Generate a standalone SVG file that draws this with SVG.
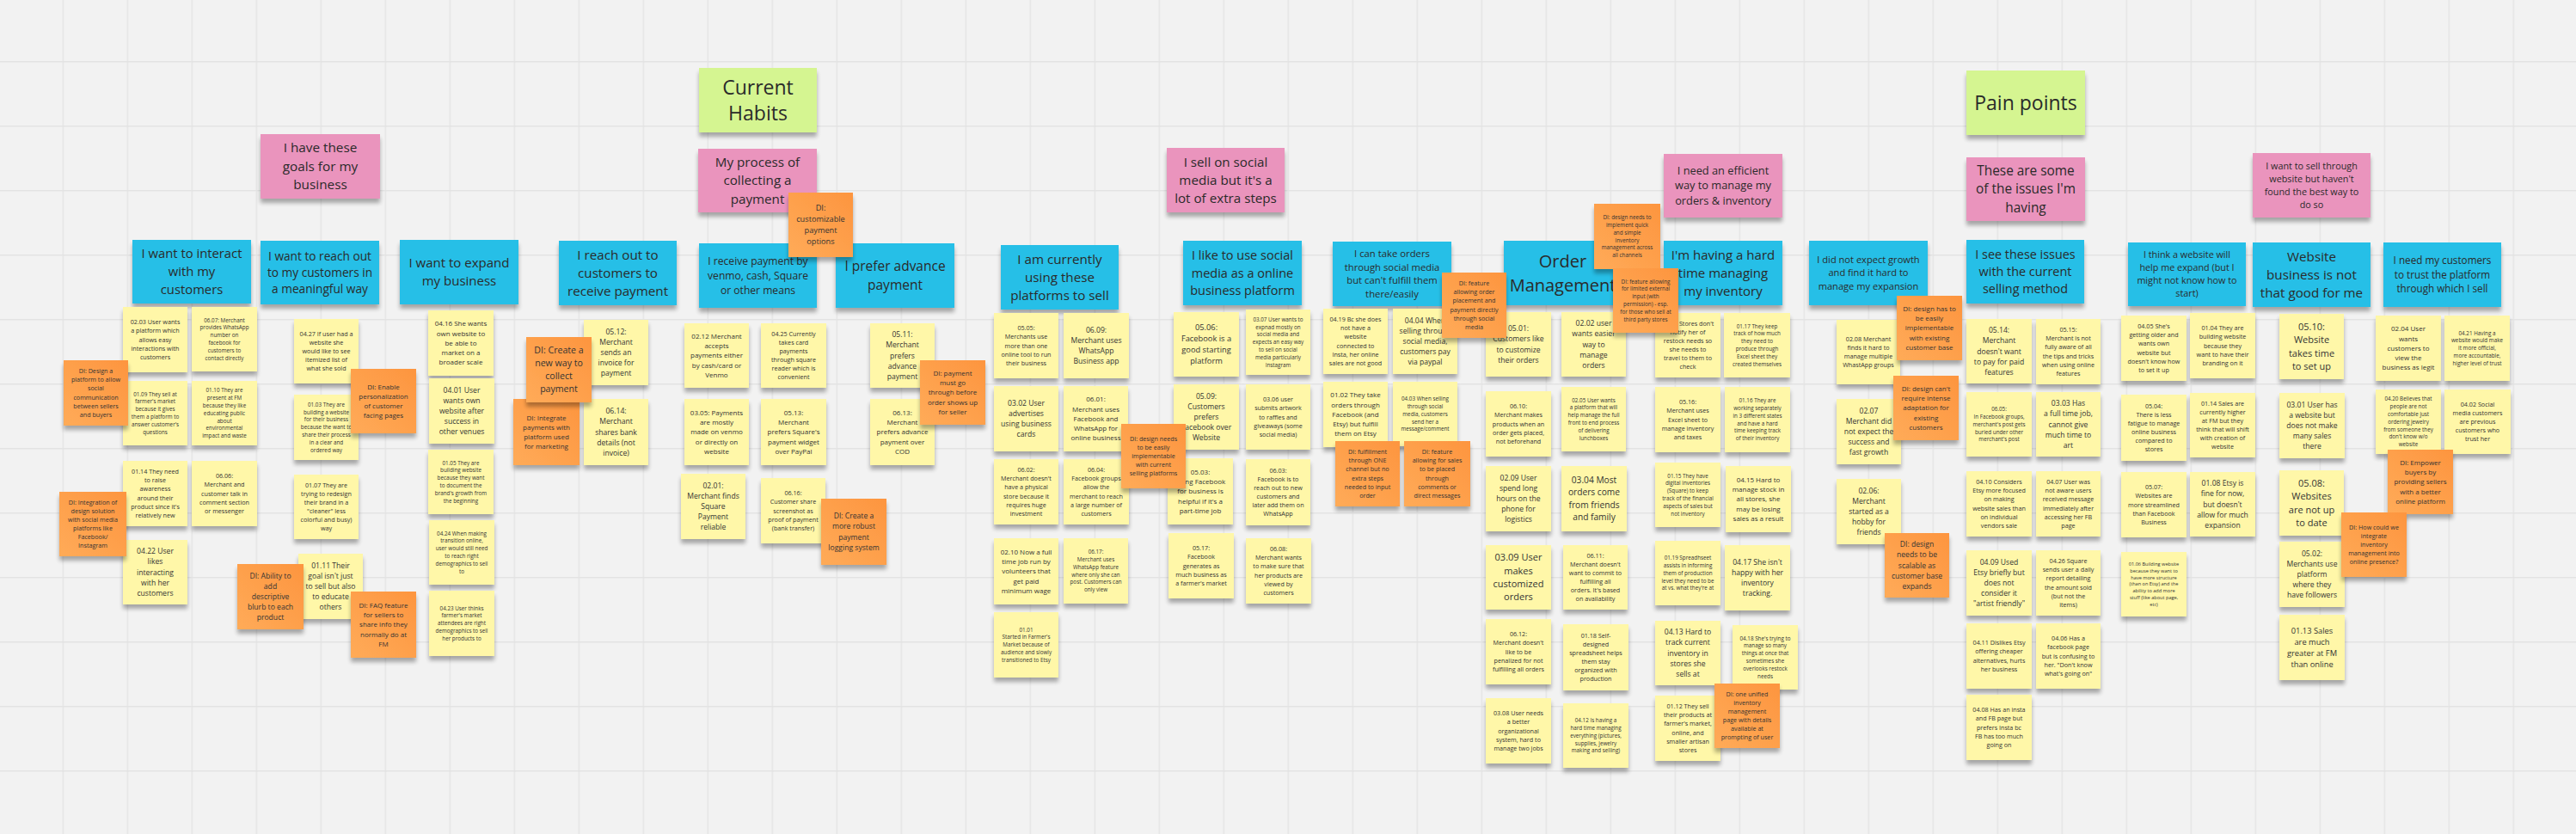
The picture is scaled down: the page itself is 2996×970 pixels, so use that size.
<svg xmlns="http://www.w3.org/2000/svg" width="2996" height="970" viewBox="0 0 2996 970">
<defs>
<pattern id="grid" width="75" height="75" patternUnits="userSpaceOnUse" x="72.6" y="71">
<path d="M0 0.7H75M0.7 0V75" stroke="#e3e3e3" stroke-width="1.4" fill="none"/>
</pattern>
<filter id="sh" x="-10%" y="-10%" width="120%" height="135%">
<feGaussianBlur in="SourceAlpha" stdDeviation="2.5"/>
<feOffset dy="5"/>
<feComponentTransfer><feFuncA type="linear" slope="0.32"/></feComponentTransfer>
<feMerge><feMergeNode/><feMergeNode in="SourceGraphic"/></feMerge>
</filter>
<linearGradient id="og" x1="0" y1="1" x2="1" y2="0">
<stop offset="0" stop-color="#ffab58"/>
<stop offset="1" stop-color="#fd953f"/>
</linearGradient>
</defs>
<style>
.y{fill:#fff7a8;filter:url(#sh)}
.o{fill:url(#og);filter:url(#sh)}
.b{fill:#27bfe7;filter:url(#sh)}
.p{fill:#ea94bd;filter:url(#sh)}
.g{fill:#d5f591;filter:url(#sh)}
text{font-family:"Open Sans","Noto Sans","Liberation Sans",sans-serif;fill:#333;text-anchor:middle}
.h{fill:#2a2a2a}
.t5{font-size:5.6px}
.t6{font-size:6.3px}
.t7{font-size:7.2px}
.t8{font-size:8px}
.t85{font-size:8.6px}
.t9{font-size:9.3px}
.t10{font-size:10.2px}
.t11{font-size:11px}
</style>
<rect width="2996" height="970" fill="#f2f2f2"/>
<rect width="2996" height="970" fill="url(#grid)"/>

<g id="headers">
<g id="h-goals"><rect class="p" x="303" y="156" width="139" height="75"/><text class="h" style="font-size:15.3px" x="372.5" y="193.5"><tspan x="372.5" dy="-1.05em">I have these</tspan><tspan x="372.5" dy="1.4em">goals for my</tspan><tspan x="372.5" dy="1.4em">business</tspan></text></g>
<g id="h-interact"><rect class="b" x="154" y="279" width="138" height="74"/><text class="h" style="font-size:14.8px" x="223" y="316"><tspan x="223" dy="-1.05em">I want to interact</tspan><tspan x="223" dy="1.4em">with my</tspan><tspan x="223" dy="1.4em">customers</tspan></text></g>
<g id="h-reach"><rect class="b" x="303" y="280" width="138" height="74"/><text class="h" style="font-size:13.7px" x="372" y="317"><tspan x="372" dy="-1.05em">I want to reach out</tspan><tspan x="372" dy="1.4em">to my customers in</tspan><tspan x="372" dy="1.4em">a meaningful way</tspan></text></g>
<g id="h-expand"><rect class="b" x="465" y="279" width="138" height="75"/><text class="h" style="font-size:15px" x="534" y="316.5"><tspan x="534" dy="-0.35em">I want to expand</tspan><tspan x="534" dy="1.4em">my business</tspan></text></g>
<g id="h-current"><rect class="g" x="813" y="79" width="137" height="75"/><text class="h" style="font-size:23px" x="881.5" y="116.5"><tspan x="881.5" dy="-0.3em">Current</tspan><tspan x="881.5" dy="1.3em">Habits</tspan></text></g>
<g id="h-process"><rect class="p" x="812" y="173" width="138" height="74"/><text class="h" style="font-size:15.2px" x="881" y="210"><tspan x="881" dy="-1.05em">My process of</tspan><tspan x="881" dy="1.4em">collecting a</tspan><tspan x="881" dy="1.4em">payment</tspan></text></g>
<g id="h-reachpay"><rect class="b" x="650" y="280" width="137" height="75"/><text class="h" style="font-size:15.2px" x="718.5" y="317.5"><tspan x="718.5" dy="-1.05em">I reach out to</tspan><tspan x="718.5" dy="1.4em">customers to</tspan><tspan x="718.5" dy="1.4em">receive payment</tspan></text></g>
<g id="h-receive"><rect class="b" x="813" y="283" width="137" height="75"/><text class="h" style="font-size:12.1px" x="881.5" y="320.5"><tspan x="881.5" dy="-1.05em">I receive payment by</tspan><tspan x="881.5" dy="1.4em">venmo, cash, Square</tspan><tspan x="881.5" dy="1.4em">or other means</tspan></text></g>
<g id="h-prefer"><rect class="b" x="972" y="283" width="138" height="75"/><text class="h" style="font-size:15.5px" x="1041" y="320.5"><tspan x="1041" dy="-0.35em">I prefer advance</tspan><tspan x="1041" dy="1.4em">payment</tspan></text></g>
<g id="h-sell"><rect class="p" x="1357" y="172" width="137" height="75"/><text class="h" style="font-size:15.2px" x="1425.5" y="209.5"><tspan x="1425.5" dy="-1.05em">I sell on social</tspan><tspan x="1425.5" dy="1.4em">media but it's a</tspan><tspan x="1425.5" dy="1.4em">lot of extra steps</tspan></text></g>
<g id="h-currently"><rect class="b" x="1164" y="285" width="137" height="75"/><text class="h" style="font-size:15.2px" x="1232.5" y="322.5"><tspan x="1232.5" dy="-1.05em">I am currently</tspan><tspan x="1232.5" dy="1.4em">using these</tspan><tspan x="1232.5" dy="1.4em">platforms to sell</tspan></text></g>
<g id="h-like"><rect class="b" x="1376" y="280" width="138" height="75"/><text class="h" style="font-size:14.5px" x="1445" y="317.5"><tspan x="1445" dy="-1.05em">I like to use social</tspan><tspan x="1445" dy="1.4em">media as a online</tspan><tspan x="1445" dy="1.4em">business platform</tspan></text></g>
<g id="h-cantake"><rect class="b" x="1550" y="281" width="138" height="75"/><text class="h" style="font-size:11.3px" x="1619" y="318.5"><tspan x="1619" dy="-1.75em">I can take orders</tspan><tspan x="1619" dy="1.4em">through social media</tspan><tspan x="1619" dy="1.4em">but can't fulfill them</tspan><tspan x="1619" dy="1.4em">there/easily</tspan></text></g>
<g id="h-order"><rect class="b" x="1749" y="280" width="137" height="75"/><text class="h" style="font-size:20px" x="1817.5" y="317.5"><tspan x="1817.5" dy="-0.35em">Order</tspan><tspan x="1817.5" dy="1.4em">Management</tspan></text></g>
<g id="h-efficient"><rect class="p" x="1935" y="179" width="138" height="74"/><text class="h" style="font-size:12.8px" x="2004" y="216"><tspan x="2004" dy="-1.05em">I need an efficient</tspan><tspan x="2004" dy="1.4em">way to manage my</tspan><tspan x="2004" dy="1.4em">orders &amp; inventory</tspan></text></g>
<g id="h-hardtime"><rect class="b" x="1935" y="280" width="138" height="75"/><text class="h" style="font-size:15px" x="2004" y="317.5"><tspan x="2004" dy="-1.05em">I'm having a hard</tspan><tspan x="2004" dy="1.4em">time managing</tspan><tspan x="2004" dy="1.4em">my inventory</tspan></text></g>
<g id="h-pain"><rect class="g" x="2287" y="82" width="138" height="75"/><text class="h" style="font-size:23px" x="2356" y="119.5"><tspan x="2356" dy="0.35em">Pain points</tspan></text></g>
<g id="h-issues"><rect class="p" x="2287" y="183" width="138" height="74"/><text class="h" style="font-size:15.4px" x="2356" y="220"><tspan x="2356" dy="-1.05em">These are some</tspan><tspan x="2356" dy="1.4em">of the issues I'm</tspan><tspan x="2356" dy="1.4em">having</tspan></text></g>
<g id="h-growth"><rect class="b" x="2104" y="280" width="138" height="75"/><text class="h" style="font-size:11.1px" x="2173" y="317.5"><tspan x="2173" dy="-1.05em">I did not expect growth</tspan><tspan x="2173" dy="1.4em">and find it hard to</tspan><tspan x="2173" dy="1.4em">manage my expansion</tspan></text></g>
<g id="h-seeissues"><rect class="b" x="2287" y="279" width="137" height="74"/><text class="h" style="font-size:14.4px" x="2355.5" y="316"><tspan x="2355.5" dy="-1.05em">I see these issues</tspan><tspan x="2355.5" dy="1.4em">with the current</tspan><tspan x="2355.5" dy="1.4em">selling method</tspan></text></g>
<g id="h-think"><rect class="b" x="2475" y="282" width="137" height="74"/><text class="h" style="font-size:10.8px" x="2543.5" y="319"><tspan x="2543.5" dy="-1.75em">I think a website will</tspan><tspan x="2543.5" dy="1.4em">help me expand (but I</tspan><tspan x="2543.5" dy="1.4em">might not know how to</tspan><tspan x="2543.5" dy="1.4em">start)</tspan></text></g>
<g id="h-website"><rect class="p" x="2620" y="178" width="137" height="75"/><text class="h" style="font-size:10.8px" x="2688.5" y="215.5"><tspan x="2688.5" dy="-1.75em">I want to sell through</tspan><tspan x="2688.5" dy="1.4em">website but haven't</tspan><tspan x="2688.5" dy="1.4em">found the best way to</tspan><tspan x="2688.5" dy="1.4em">do so</tspan></text></g>
<g id="h-notgood"><rect class="b" x="2620" y="282" width="137" height="75"/><text class="h" style="font-size:15.2px" x="2688.5" y="319.5"><tspan x="2688.5" dy="-1.05em">Website</tspan><tspan x="2688.5" dy="1.4em">business is not</tspan><tspan x="2688.5" dy="1.4em">that good for me</tspan></text></g>
<g id="h-trust"><rect class="b" x="2772" y="282" width="137" height="75"/><text class="h" style="font-size:11.7px" x="2840.5" y="319.5"><tspan x="2840.5" dy="-1.05em">I need my customers</tspan><tspan x="2840.5" dy="1.4em">to trust the platform</tspan><tspan x="2840.5" dy="1.4em">through which I sell</tspan></text></g>
</g>

<g id="notes">
<g id="n0203"><rect class="y" x="143" y="357" width="75" height="76"/><text class="t7" x="180.5" y="395"><tspan x="180.5" dy="-2.45em">02.03 User wants</tspan><tspan x="180.5" dy="1.4em">a platform which</tspan><tspan x="180.5" dy="1.4em">allows easy</tspan><tspan x="180.5" dy="1.4em">interactions with</tspan><tspan x="180.5" dy="1.4em">customers</tspan></text></g>
<g id="n0607"><rect class="y" x="223" y="357" width="76" height="75"/><text class="t6" x="261" y="394.5"><tspan x="261" dy="-3.15em">06.07: Merchant</tspan><tspan x="261" dy="1.4em">provides WhatsApp</tspan><tspan x="261" dy="1.4em">number on</tspan><tspan x="261" dy="1.4em">facebook for</tspan><tspan x="261" dy="1.4em">customers to</tspan><tspan x="261" dy="1.4em">contact directly</tspan></text></g>
<g id="n0427"><rect class="y" x="342" y="371" width="75" height="75"/><text class="t7" x="379.5" y="408.5"><tspan x="379.5" dy="-2.45em">04.27 If user had a</tspan><tspan x="379.5" dy="1.4em">website  she</tspan><tspan x="379.5" dy="1.4em">would like to see</tspan><tspan x="379.5" dy="1.4em">itemized list of</tspan><tspan x="379.5" dy="1.4em">what she sold</tspan></text></g>
<g id="n0109"><rect class="y" x="143" y="443" width="75" height="75"/><text class="t6" x="180.5" y="480.5"><tspan x="180.5" dy="-3.15em">01.09 They sell at</tspan><tspan x="180.5" dy="1.4em">farmer's market</tspan><tspan x="180.5" dy="1.4em">because it gives</tspan><tspan x="180.5" dy="1.4em">them a platform to</tspan><tspan x="180.5" dy="1.4em">answer customer's</tspan><tspan x="180.5" dy="1.4em">questions</tspan></text></g>
<g id="n0110"><rect class="y" x="223" y="443" width="76" height="75"/><text class="t6" x="261" y="480.5"><tspan x="261" dy="-3.85em">01.10 They are</tspan><tspan x="261" dy="1.4em">present at FM</tspan><tspan x="261" dy="1.4em">because they like</tspan><tspan x="261" dy="1.4em">educating public</tspan><tspan x="261" dy="1.4em">about</tspan><tspan x="261" dy="1.4em">environmental</tspan><tspan x="261" dy="1.4em">impact and waste</tspan></text></g>
<g id="n0103"><rect class="y" x="342" y="459" width="75" height="76"/><text class="t6" x="379.5" y="497"><tspan x="379.5" dy="-3.85em">01.03 They are</tspan><tspan x="379.5" dy="1.4em">building a website</tspan><tspan x="379.5" dy="1.4em">for their business</tspan><tspan x="379.5" dy="1.4em">because the want to</tspan><tspan x="379.5" dy="1.4em">share their process</tspan><tspan x="379.5" dy="1.4em">in a clear and</tspan><tspan x="379.5" dy="1.4em">ordered way</tspan></text></g>
<g id="n0114a"><rect class="y" x="143" y="536" width="75" height="76"/><text class="t7" x="180.5" y="574"><tspan x="180.5" dy="-3.15em">01.14 They need</tspan><tspan x="180.5" dy="1.4em">to raise</tspan><tspan x="180.5" dy="1.4em">awareness</tspan><tspan x="180.5" dy="1.4em">around their</tspan><tspan x="180.5" dy="1.4em">product since it's</tspan><tspan x="180.5" dy="1.4em">relatively new</tspan></text></g>
<g id="n0606"><rect class="y" x="223" y="536" width="76" height="76"/><text class="t7" x="261" y="574"><tspan x="261" dy="-2.45em">06.06:</tspan><tspan x="261" dy="1.4em">Merchant and</tspan><tspan x="261" dy="1.4em">customer talk in</tspan><tspan x="261" dy="1.4em">comment section</tspan><tspan x="261" dy="1.4em">or messenger</tspan></text></g>
<g id="n0107"><rect class="y" x="342" y="552" width="75" height="75"/><text class="t7" x="379.5" y="589.5"><tspan x="379.5" dy="-3.15em">01.07 They are</tspan><tspan x="379.5" dy="1.4em">trying to redesign</tspan><tspan x="379.5" dy="1.4em">their brand in a</tspan><tspan x="379.5" dy="1.4em">"cleaner" less</tspan><tspan x="379.5" dy="1.4em">colorful and busy)</tspan><tspan x="379.5" dy="1.4em">way</tspan></text></g>
<g id="n0422"><rect class="y" x="143" y="628" width="75" height="75"/><text class="t85" x="180.5" y="665.5"><tspan x="180.5" dy="-2.45em">04.22 User</tspan><tspan x="180.5" dy="1.4em">likes</tspan><tspan x="180.5" dy="1.4em">interacting</tspan><tspan x="180.5" dy="1.4em">with her</tspan><tspan x="180.5" dy="1.4em">customers</tspan></text></g>
<g id="n0111"><rect class="y" x="347" y="644" width="75" height="76"/><text class="t85" x="384.5" y="682"><tspan x="384.5" dy="-2.45em">01.11 Their</tspan><tspan x="384.5" dy="1.4em">goal isn't just</tspan><tspan x="384.5" dy="1.4em">to sell but also</tspan><tspan x="384.5" dy="1.4em">to educate</tspan><tspan x="384.5" dy="1.4em">others</tspan></text></g>
<g id="n0416"><rect class="y" x="498" y="361" width="76" height="76"/><text class="t8" x="536" y="399"><tspan x="536" dy="-2.45em">04.16 She wants</tspan><tspan x="536" dy="1.4em">own website to</tspan><tspan x="536" dy="1.4em">be able to</tspan><tspan x="536" dy="1.4em">market on a</tspan><tspan x="536" dy="1.4em">broader scale</tspan></text></g>
<g id="n0401"><rect class="y" x="499" y="440" width="76" height="76"/><text class="t85" x="537" y="478"><tspan x="537" dy="-2.45em">04.01 User</tspan><tspan x="537" dy="1.4em">wants own</tspan><tspan x="537" dy="1.4em">website after</tspan><tspan x="537" dy="1.4em">success in</tspan><tspan x="537" dy="1.4em">other venues</tspan></text></g>
<g id="n0105"><rect class="y" x="498" y="523" width="76" height="75"/><text class="t6" x="536" y="560.5"><tspan x="536" dy="-3.15em">01.05 They are</tspan><tspan x="536" dy="1.4em">building website</tspan><tspan x="536" dy="1.4em">because they want</tspan><tspan x="536" dy="1.4em">to document the</tspan><tspan x="536" dy="1.4em">brand's growth from</tspan><tspan x="536" dy="1.4em">the beginning</tspan></text></g>
<g id="n0424"><rect class="y" x="499" y="605" width="76" height="75"/><text class="t6" x="537" y="642.5"><tspan x="537" dy="-3.15em">04.24 When making</tspan><tspan x="537" dy="1.4em">transition online,</tspan><tspan x="537" dy="1.4em">user would still need</tspan><tspan x="537" dy="1.4em">to reach right</tspan><tspan x="537" dy="1.4em">demographics to sell</tspan><tspan x="537" dy="1.4em">to</tspan></text></g>
<g id="n0423"><rect class="y" x="499" y="687" width="76" height="76"/><text class="t6" x="537" y="725"><tspan x="537" dy="-2.45em">04.23 User thinks</tspan><tspan x="537" dy="1.4em">farmer's market</tspan><tspan x="537" dy="1.4em">attendees are right</tspan><tspan x="537" dy="1.4em">demographics to sell</tspan><tspan x="537" dy="1.4em">her products to</tspan></text></g>

<g id="n0512"><rect class="y" x="679" y="372" width="75" height="76"/><text class="t85" x="716.5" y="410"><tspan x="716.5" dy="-2.45em">05.12:</tspan><tspan x="716.5" dy="1.4em">Merchant</tspan><tspan x="716.5" dy="1.4em">sends an</tspan><tspan x="716.5" dy="1.4em">invoice for</tspan><tspan x="716.5" dy="1.4em">payment</tspan></text></g>
<g id="n0212"><rect class="y" x="796" y="376" width="75" height="75"/><text class="t8" x="833.5" y="413.5"><tspan x="833.5" dy="-2.45em">02.12 Merchant</tspan><tspan x="833.5" dy="1.4em">accepts</tspan><tspan x="833.5" dy="1.4em">payments either</tspan><tspan x="833.5" dy="1.4em">by cash/card or</tspan><tspan x="833.5" dy="1.4em">Venmo</tspan></text></g>
<g id="n0425"><rect class="y" x="885" y="376" width="76" height="75"/><text class="t7" x="923" y="413.5"><tspan x="923" dy="-3.15em">04.25 Currently</tspan><tspan x="923" dy="1.4em">takes card</tspan><tspan x="923" dy="1.4em">payments</tspan><tspan x="923" dy="1.4em">through square</tspan><tspan x="923" dy="1.4em">reader which is</tspan><tspan x="923" dy="1.4em">convenient</tspan></text></g>
<g id="n0511"><rect class="y" x="1012" y="376" width="75" height="75"/><text class="t85" x="1049.5" y="413.5"><tspan x="1049.5" dy="-2.45em">05.11:</tspan><tspan x="1049.5" dy="1.4em">Merchant</tspan><tspan x="1049.5" dy="1.4em">prefers</tspan><tspan x="1049.5" dy="1.4em">advance</tspan><tspan x="1049.5" dy="1.4em">payment</tspan></text></g>
<g id="n0614"><rect class="y" x="679" y="464" width="75" height="77"/><text class="t85" x="716.5" y="502.5"><tspan x="716.5" dy="-2.45em">06.14:</tspan><tspan x="716.5" dy="1.4em">Merchant</tspan><tspan x="716.5" dy="1.4em">shares bank</tspan><tspan x="716.5" dy="1.4em">details (not</tspan><tspan x="716.5" dy="1.4em">invoice)</tspan></text></g>
<g id="n0305"><rect class="y" x="796" y="464" width="75" height="77"/><text class="t8" x="833.5" y="502.5"><tspan x="833.5" dy="-2.45em">03.05: Payments</tspan><tspan x="833.5" dy="1.4em">are mostly</tspan><tspan x="833.5" dy="1.4em">made on venmo</tspan><tspan x="833.5" dy="1.4em">or directly on</tspan><tspan x="833.5" dy="1.4em">website</tspan></text></g>
<g id="n0513"><rect class="y" x="885" y="464" width="76" height="77"/><text class="t8" x="923" y="502.5"><tspan x="923" dy="-2.45em">05.13:</tspan><tspan x="923" dy="1.4em">Merchant</tspan><tspan x="923" dy="1.4em">prefers Square's</tspan><tspan x="923" dy="1.4em">payment widget</tspan><tspan x="923" dy="1.4em">over PayPal</tspan></text></g>
<g id="n0613"><rect class="y" x="1012" y="464" width="75" height="77"/><text class="t8" x="1049.5" y="502.5"><tspan x="1049.5" dy="-2.45em">06.13:</tspan><tspan x="1049.5" dy="1.4em">Merchant</tspan><tspan x="1049.5" dy="1.4em">prefers advance</tspan><tspan x="1049.5" dy="1.4em">payment over</tspan><tspan x="1049.5" dy="1.4em">COD</tspan></text></g>
<g id="n0201"><rect class="y" x="792" y="551" width="75" height="76"/><text class="t85" x="829.5" y="589"><tspan x="829.5" dy="-2.45em">02.01:</tspan><tspan x="829.5" dy="1.4em">Merchant finds</tspan><tspan x="829.5" dy="1.4em">Square</tspan><tspan x="829.5" dy="1.4em">Payment</tspan><tspan x="829.5" dy="1.4em">reliable</tspan></text></g>
<g id="n0616"><rect class="y" x="885" y="556" width="75" height="76"/><text class="t7" x="922.5" y="594"><tspan x="922.5" dy="-2.45em">06.16:</tspan><tspan x="922.5" dy="1.4em">Customer share</tspan><tspan x="922.5" dy="1.4em">screenshot as</tspan><tspan x="922.5" dy="1.4em">proof of payment</tspan><tspan x="922.5" dy="1.4em">(bank transfer)</tspan></text></g>

<g id="n0505"><rect class="y" x="1156" y="364" width="75" height="76"/><text class="t7" x="1193.5" y="402"><tspan x="1193.5" dy="-2.45em">05.05:</tspan><tspan x="1193.5" dy="1.4em">Merchants use</tspan><tspan x="1193.5" dy="1.4em">more than one</tspan><tspan x="1193.5" dy="1.4em">online tool to run</tspan><tspan x="1193.5" dy="1.4em">their business</tspan></text></g>
<g id="n0609"><rect class="y" x="1237" y="364" width="76" height="76"/><text class="t85" x="1275" y="402"><tspan x="1275" dy="-1.75em">06.09:</tspan><tspan x="1275" dy="1.4em">Merchant uses</tspan><tspan x="1275" dy="1.4em">WhatsApp</tspan><tspan x="1275" dy="1.4em">Business app</tspan></text></g>
<g id="n0302"><rect class="y" x="1156" y="449" width="75" height="76"/><text class="t85" x="1193.5" y="487"><tspan x="1193.5" dy="-1.75em">03.02 User</tspan><tspan x="1193.5" dy="1.4em">advertises</tspan><tspan x="1193.5" dy="1.4em">using business</tspan><tspan x="1193.5" dy="1.4em">cards</tspan></text></g>
<g id="n0601"><rect class="y" x="1237" y="449" width="75" height="76"/><text class="t8" x="1274.5" y="487"><tspan x="1274.5" dy="-2.45em">06.01:</tspan><tspan x="1274.5" dy="1.4em">Merchant uses</tspan><tspan x="1274.5" dy="1.4em">Facebook and</tspan><tspan x="1274.5" dy="1.4em">WhatsApp for</tspan><tspan x="1274.5" dy="1.4em">online business</tspan></text></g>
<g id="n0602"><rect class="y" x="1156" y="534" width="75" height="76"/><text class="t7" x="1193.5" y="572"><tspan x="1193.5" dy="-3.15em">06.02:</tspan><tspan x="1193.5" dy="1.4em">Merchant doesn't</tspan><tspan x="1193.5" dy="1.4em">have a physical</tspan><tspan x="1193.5" dy="1.4em">store because it</tspan><tspan x="1193.5" dy="1.4em">requires huge</tspan><tspan x="1193.5" dy="1.4em">investment</tspan></text></g>
<g id="n0604"><rect class="y" x="1237" y="534" width="76" height="76"/><text class="t7" x="1275" y="572"><tspan x="1275" dy="-3.15em">06.04:</tspan><tspan x="1275" dy="1.4em">Facebook groups</tspan><tspan x="1275" dy="1.4em">allow the</tspan><tspan x="1275" dy="1.4em">merchant to reach</tspan><tspan x="1275" dy="1.4em">a large number of</tspan><tspan x="1275" dy="1.4em">customers</tspan></text></g>
<g id="n0210"><rect class="y" x="1156" y="626" width="75" height="77"/><text class="t8" x="1193.5" y="664.5"><tspan x="1193.5" dy="-2.45em">02.10 Now a full</tspan><tspan x="1193.5" dy="1.4em">time job run by</tspan><tspan x="1193.5" dy="1.4em">volunteers that</tspan><tspan x="1193.5" dy="1.4em">get paid</tspan><tspan x="1193.5" dy="1.4em">minimum wage</tspan></text></g>
<g id="n0617"><rect class="y" x="1237" y="626" width="75" height="76"/><text class="t6" x="1274.5" y="664"><tspan x="1274.5" dy="-3.15em">06.17:</tspan><tspan x="1274.5" dy="1.4em">Merchant uses</tspan><tspan x="1274.5" dy="1.4em">WhatsApp feature</tspan><tspan x="1274.5" dy="1.4em">where only she can</tspan><tspan x="1274.5" dy="1.4em">post. Customers can</tspan><tspan x="1274.5" dy="1.4em">only view</tspan></text></g>
<g id="n0101"><rect class="y" x="1156" y="712" width="75" height="76"/><text class="t6" x="1193.5" y="750"><tspan x="1193.5" dy="-2.45em">01.01</tspan><tspan x="1193.5" dy="1.4em">Started in Farmer's</tspan><tspan x="1193.5" dy="1.4em">Market because of</tspan><tspan x="1193.5" dy="1.4em">audience and slowly</tspan><tspan x="1193.5" dy="1.4em">transitioned to Etsy</tspan></text></g>
<g id="n0506"><rect class="y" x="1365" y="363" width="76" height="75"/><text class="t9" x="1403" y="400.5"><tspan x="1403" dy="-1.75em">05.06:</tspan><tspan x="1403" dy="1.4em">Facebook is a</tspan><tspan x="1403" dy="1.4em">good starting</tspan><tspan x="1403" dy="1.4em">platform</tspan></text></g>
<g id="n0307"><rect class="y" x="1449" y="360" width="75" height="76"/><text class="t6" x="1486.5" y="398"><tspan x="1486.5" dy="-3.85em">03.07 User wants to</tspan><tspan x="1486.5" dy="1.4em">expnad mostly on</tspan><tspan x="1486.5" dy="1.4em">social media and</tspan><tspan x="1486.5" dy="1.4em">expects an easy way</tspan><tspan x="1486.5" dy="1.4em">to sell on social</tspan><tspan x="1486.5" dy="1.4em">media particularly</tspan><tspan x="1486.5" dy="1.4em">Instagram</tspan></text></g>
<g id="n0419"><rect class="y" x="1539" y="359" width="75" height="76"/><text class="t7" x="1576.5" y="397"><tspan x="1576.5" dy="-3.15em">04.19 Bc she does</tspan><tspan x="1576.5" dy="1.4em">not have a</tspan><tspan x="1576.5" dy="1.4em">website</tspan><tspan x="1576.5" dy="1.4em">connected to</tspan><tspan x="1576.5" dy="1.4em">Insta, her online</tspan><tspan x="1576.5" dy="1.4em">sales are not good</tspan></text></g>
<g id="n0509"><rect class="y" x="1365" y="447" width="76" height="76"/><text class="t85" x="1403" y="485"><tspan x="1403" dy="-2.45em">05.09:</tspan><tspan x="1403" dy="1.4em">Customers</tspan><tspan x="1403" dy="1.4em">prefers</tspan><tspan x="1403" dy="1.4em">Facebook over</tspan><tspan x="1403" dy="1.4em">Website</tspan></text></g>
<g id="n0306"><rect class="y" x="1449" y="447" width="75" height="76"/><text class="t7" x="1486.5" y="485"><tspan x="1486.5" dy="-2.45em">03.06 user</tspan><tspan x="1486.5" dy="1.4em">submits artwork</tspan><tspan x="1486.5" dy="1.4em">to raffles and</tspan><tspan x="1486.5" dy="1.4em">giveaways (some</tspan><tspan x="1486.5" dy="1.4em">social media)</tspan></text></g>
<g id="n0102"><rect class="y" x="1539" y="444" width="75" height="76"/><text class="t8" x="1576.5" y="482"><tspan x="1576.5" dy="-2.45em">01.02 They take</tspan><tspan x="1576.5" dy="1.4em">orders through</tspan><tspan x="1576.5" dy="1.4em">Facebook (and</tspan><tspan x="1576.5" dy="1.4em">Etsy) but fulfill</tspan><tspan x="1576.5" dy="1.4em">them on Etsy</tspan></text></g>
<g id="n0503"><rect class="y" x="1358" y="533" width="76" height="77"/><text class="t8" x="1396" y="571.5"><tspan x="1396" dy="-2.45em">05.03:</tspan><tspan x="1396" dy="1.4em">Using Facebook</tspan><tspan x="1396" dy="1.4em">for business is</tspan><tspan x="1396" dy="1.4em">helpful if it's a</tspan><tspan x="1396" dy="1.4em">part-time job</tspan></text></g>
<g id="n0603"><rect class="y" x="1449" y="534" width="75" height="77"/><text class="t7" x="1486.5" y="572.5"><tspan x="1486.5" dy="-3.15em">06.03:</tspan><tspan x="1486.5" dy="1.4em">Facebook is to</tspan><tspan x="1486.5" dy="1.4em">reach out to new</tspan><tspan x="1486.5" dy="1.4em">customers and</tspan><tspan x="1486.5" dy="1.4em">later add them on</tspan><tspan x="1486.5" dy="1.4em">WhatsApp</tspan></text></g>
<g id="n0517"><rect class="y" x="1359" y="620" width="76" height="76"/><text class="t7" x="1397" y="658"><tspan x="1397" dy="-2.45em">05.17:</tspan><tspan x="1397" dy="1.4em">Facebook</tspan><tspan x="1397" dy="1.4em">generates as</tspan><tspan x="1397" dy="1.4em">much business as</tspan><tspan x="1397" dy="1.4em">a farmer's market</tspan></text></g>
<g id="n0608"><rect class="y" x="1449" y="626" width="76" height="76"/><text class="t7" x="1487" y="664"><tspan x="1487" dy="-3.15em">06.08:</tspan><tspan x="1487" dy="1.4em">Merchant wants</tspan><tspan x="1487" dy="1.4em">to make sure that</tspan><tspan x="1487" dy="1.4em">her products are</tspan><tspan x="1487" dy="1.4em">viewed by</tspan><tspan x="1487" dy="1.4em">customers</tspan></text></g>
<g id="n0404"><rect class="y" x="1620" y="359" width="75" height="76"/><text class="t85" x="1657.5" y="397"><tspan x="1657.5" dy="-2.45em">04.04 When</tspan><tspan x="1657.5" dy="1.4em">selling through</tspan><tspan x="1657.5" dy="1.4em">social media,</tspan><tspan x="1657.5" dy="1.4em">customers pay</tspan><tspan x="1657.5" dy="1.4em">via paypal</tspan></text></g>
<g id="n0403"><rect class="y" x="1620" y="444" width="75" height="75"/><text class="t6" x="1657.5" y="481.5"><tspan x="1657.5" dy="-2.45em">04.03 When selling</tspan><tspan x="1657.5" dy="1.4em">through social</tspan><tspan x="1657.5" dy="1.4em">media, customers</tspan><tspan x="1657.5" dy="1.4em">send her a</tspan><tspan x="1657.5" dy="1.4em">message/comment</tspan></text></g>

<g id="n0501"><rect class="y" x="1728" y="363" width="76" height="75"/><text class="t85" x="1766" y="400.5"><tspan x="1766" dy="-1.75em">05.01:</tspan><tspan x="1766" dy="1.4em">Customers like</tspan><tspan x="1766" dy="1.4em">to customize</tspan><tspan x="1766" dy="1.4em">their orders</tspan></text></g>
<g id="n0202"><rect class="y" x="1816" y="363" width="75" height="75"/><text class="t85" x="1853.5" y="400.5"><tspan x="1853.5" dy="-2.45em">02.02 user</tspan><tspan x="1853.5" dy="1.4em">wants easier</tspan><tspan x="1853.5" dy="1.4em">way to</tspan><tspan x="1853.5" dy="1.4em">manage</tspan><tspan x="1853.5" dy="1.4em">orders</tspan></text></g>
<g id="n0414"><rect class="y" x="1925" y="364" width="76" height="75"/><text class="t7" x="1963" y="401.5"><tspan x="1963" dy="-3.15em">04.14 Stores don't</tspan><tspan x="1963" dy="1.4em">notify her of</tspan><tspan x="1963" dy="1.4em">restock needs so</tspan><tspan x="1963" dy="1.4em">she needs to</tspan><tspan x="1963" dy="1.4em">travel to them to</tspan><tspan x="1963" dy="1.4em">check</tspan></text></g>
<g id="n0117"><rect class="y" x="2005" y="364" width="77" height="75"/><text class="t6" x="2043.5" y="401.5"><tspan x="2043.5" dy="-3.15em">01.17 They keep</tspan><tspan x="2043.5" dy="1.4em">track of how much</tspan><tspan x="2043.5" dy="1.4em">they need to</tspan><tspan x="2043.5" dy="1.4em">produce through</tspan><tspan x="2043.5" dy="1.4em">Excel sheet they</tspan><tspan x="2043.5" dy="1.4em">created themselves</tspan></text></g>
<g id="n0610"><rect class="y" x="1728" y="455" width="76" height="76"/><text class="t7" x="1766" y="493"><tspan x="1766" dy="-2.45em">06.10:</tspan><tspan x="1766" dy="1.4em">Merchant makes</tspan><tspan x="1766" dy="1.4em">products when an</tspan><tspan x="1766" dy="1.4em">order gets placed,</tspan><tspan x="1766" dy="1.4em">not beforehand</tspan></text></g>
<g id="n0205"><rect class="y" x="1816" y="450" width="75" height="75"/><text class="t6" x="1853.5" y="487.5"><tspan x="1853.5" dy="-3.15em">02.05 User wants</tspan><tspan x="1853.5" dy="1.4em">a platform that will</tspan><tspan x="1853.5" dy="1.4em">help manage the full</tspan><tspan x="1853.5" dy="1.4em">front to end process</tspan><tspan x="1853.5" dy="1.4em">of delivering</tspan><tspan x="1853.5" dy="1.4em">lunchboxes</tspan></text></g>
<g id="n0516"><rect class="y" x="1925" y="450" width="76" height="76"/><text class="t7" x="1963" y="488"><tspan x="1963" dy="-2.45em">05.16:</tspan><tspan x="1963" dy="1.4em">Merchant uses</tspan><tspan x="1963" dy="1.4em">Excel sheet to</tspan><tspan x="1963" dy="1.4em">manage inventory</tspan><tspan x="1963" dy="1.4em">and taxes</tspan></text></g>
<g id="n0116"><rect class="y" x="2006" y="450" width="76" height="76"/><text class="t6" x="2044" y="488"><tspan x="2044" dy="-3.15em">01.16 They are</tspan><tspan x="2044" dy="1.4em">working separately</tspan><tspan x="2044" dy="1.4em">in 3 different states</tspan><tspan x="2044" dy="1.4em">and have a hard</tspan><tspan x="2044" dy="1.4em">time keeping track</tspan><tspan x="2044" dy="1.4em">of their inventory</tspan></text></g>
<g id="n0209"><rect class="y" x="1728" y="542" width="76" height="76"/><text class="t85" x="1766" y="580"><tspan x="1766" dy="-2.45em">02.09 User</tspan><tspan x="1766" dy="1.4em">spend long</tspan><tspan x="1766" dy="1.4em">hours on the</tspan><tspan x="1766" dy="1.4em">phone for</tspan><tspan x="1766" dy="1.4em">logistics</tspan></text></g>
<g id="n0304"><rect class="y" x="1816" y="542" width="76" height="76"/><text class="t10" x="1854" y="580"><tspan x="1854" dy="-1.75em">03.04 Most</tspan><tspan x="1854" dy="1.4em">orders come</tspan><tspan x="1854" dy="1.4em">from friends</tspan><tspan x="1854" dy="1.4em">and family</tspan></text></g>
<g id="n0115"><rect class="y" x="1925" y="538" width="76" height="75"/><text class="t6" x="1963" y="575.5"><tspan x="1963" dy="-3.15em">01.15 They have</tspan><tspan x="1963" dy="1.4em">digital inventories</tspan><tspan x="1963" dy="1.4em">(Square) to keep</tspan><tspan x="1963" dy="1.4em">track of the financial</tspan><tspan x="1963" dy="1.4em">aspects of sales but</tspan><tspan x="1963" dy="1.4em">not inventory</tspan></text></g>
<g id="n0415"><rect class="y" x="2007" y="542" width="76" height="77"/><text class="t8" x="2045" y="580.5"><tspan x="2045" dy="-2.45em">04.15 Hard to</tspan><tspan x="2045" dy="1.4em">manage stock in</tspan><tspan x="2045" dy="1.4em">all stores, she</tspan><tspan x="2045" dy="1.4em">may be losing</tspan><tspan x="2045" dy="1.4em">sales as a result</tspan></text></g>
<g id="n0309"><rect class="y" x="1728" y="634" width="76" height="75"/><text class="t11" x="1766" y="671.5"><tspan x="1766" dy="-1.75em">03.09 User</tspan><tspan x="1766" dy="1.4em">makes</tspan><tspan x="1766" dy="1.4em">customized</tspan><tspan x="1766" dy="1.4em">orders</tspan></text></g>
<g id="n0611"><rect class="y" x="1818" y="634" width="75" height="75"/><text class="t7" x="1855.5" y="671.5"><tspan x="1855.5" dy="-3.15em">06.11:</tspan><tspan x="1855.5" dy="1.4em">Merchant doesn't</tspan><tspan x="1855.5" dy="1.4em">want to commit to</tspan><tspan x="1855.5" dy="1.4em">fulfilling all</tspan><tspan x="1855.5" dy="1.4em">orders. It's based</tspan><tspan x="1855.5" dy="1.4em">on availability</tspan></text></g>
<g id="n0119"><rect class="y" x="1925" y="629" width="76" height="75"/><text class="t6" x="1963" y="666.5"><tspan x="1963" dy="-2.45em">01.19 Spreadhseet</tspan><tspan x="1963" dy="1.4em">assists in informing</tspan><tspan x="1963" dy="1.4em">them of production</tspan><tspan x="1963" dy="1.4em">level they need to be</tspan><tspan x="1963" dy="1.4em">at vs. what they're at</tspan></text></g>
<g id="n0417"><rect class="y" x="2006" y="634" width="76" height="76"/><text class="t85" x="2044" y="672"><tspan x="2044" dy="-1.75em">04.17 She isn't</tspan><tspan x="2044" dy="1.4em">happy with her</tspan><tspan x="2044" dy="1.4em">inventory</tspan><tspan x="2044" dy="1.4em">tracking.</tspan></text></g>
<g id="n0612"><rect class="y" x="1728" y="720" width="76" height="76"/><text class="t7" x="1766" y="758"><tspan x="1766" dy="-2.45em">06.12:</tspan><tspan x="1766" dy="1.4em">Merchant doesn't</tspan><tspan x="1766" dy="1.4em">like to be</tspan><tspan x="1766" dy="1.4em">penalized for not</tspan><tspan x="1766" dy="1.4em">fulfilling all orders</tspan></text></g>
<g id="n0118"><rect class="y" x="1818" y="726" width="76" height="77"/><text class="t7" x="1856" y="764.5"><tspan x="1856" dy="-3.15em">01.18 Self-</tspan><tspan x="1856" dy="1.4em">designed</tspan><tspan x="1856" dy="1.4em">spreadsheet helps</tspan><tspan x="1856" dy="1.4em">them stay</tspan><tspan x="1856" dy="1.4em">organized with</tspan><tspan x="1856" dy="1.4em">production</tspan></text></g>
<g id="n0413"><rect class="y" x="1925" y="722" width="76" height="75"/><text class="t85" x="1963" y="759.5"><tspan x="1963" dy="-2.45em">04.13 Hard to</tspan><tspan x="1963" dy="1.4em">track current</tspan><tspan x="1963" dy="1.4em">inventory in</tspan><tspan x="1963" dy="1.4em">stores she</tspan><tspan x="1963" dy="1.4em">sells at</tspan></text></g>
<g id="n0418"><rect class="y" x="2015" y="727" width="76" height="75"/><text class="t6" x="2053" y="764.5"><tspan x="2053" dy="-3.15em">04.18 She's trying to</tspan><tspan x="2053" dy="1.4em">manage so many</tspan><tspan x="2053" dy="1.4em">things at once that</tspan><tspan x="2053" dy="1.4em">sometimes she</tspan><tspan x="2053" dy="1.4em">overlooks restock</tspan><tspan x="2053" dy="1.4em">needs</tspan></text></g>
<g id="n0308"><rect class="y" x="1728" y="812" width="76" height="76"/><text class="t7" x="1766" y="850"><tspan x="1766" dy="-2.45em">03.08 User needs</tspan><tspan x="1766" dy="1.4em">a better</tspan><tspan x="1766" dy="1.4em">organizational</tspan><tspan x="1766" dy="1.4em">system, hard to</tspan><tspan x="1766" dy="1.4em">manage two jobs</tspan></text></g>
<g id="n0412"><rect class="y" x="1818" y="818" width="76" height="75"/><text class="t6" x="1856" y="855.5"><tspan x="1856" dy="-2.45em">04.12 Is having a</tspan><tspan x="1856" dy="1.4em">hard time managing</tspan><tspan x="1856" dy="1.4em">everything (pictures,</tspan><tspan x="1856" dy="1.4em">supplies, jewelry</tspan><tspan x="1856" dy="1.4em">making and selling)</tspan></text></g>
<g id="n0112"><rect class="y" x="1925" y="809" width="76" height="76"/><text class="t7" x="1963" y="847"><tspan x="1963" dy="-3.15em">01.12 They sell</tspan><tspan x="1963" dy="1.4em">their products at</tspan><tspan x="1963" dy="1.4em">farmer's market,</tspan><tspan x="1963" dy="1.4em">online, and</tspan><tspan x="1963" dy="1.4em">smaller artisan</tspan><tspan x="1963" dy="1.4em">stores</tspan></text></g>

<g id="n0208"><rect class="y" x="2136" y="372" width="74" height="75"/><text class="t7" x="2173" y="409.5"><tspan x="2173" dy="-1.75em">02.08 Merchant</tspan><tspan x="2173" dy="1.4em">finds it hard to</tspan><tspan x="2173" dy="1.4em">manage multiple</tspan><tspan x="2173" dy="1.4em">WhastApp groups</tspan></text></g>
<g id="n0207"><rect class="y" x="2136" y="464" width="75" height="76"/><text class="t85" x="2173.5" y="502"><tspan x="2173.5" dy="-2.45em">02.07</tspan><tspan x="2173.5" dy="1.4em">Merchant did</tspan><tspan x="2173.5" dy="1.4em">not expect the</tspan><tspan x="2173.5" dy="1.4em">success and</tspan><tspan x="2173.5" dy="1.4em">fast growth</tspan></text></g>
<g id="n0206"><rect class="y" x="2136" y="557" width="75" height="76"/><text class="t85" x="2173.5" y="595"><tspan x="2173.5" dy="-2.45em">02.06:</tspan><tspan x="2173.5" dy="1.4em">Merchant</tspan><tspan x="2173.5" dy="1.4em">started as a</tspan><tspan x="2173.5" dy="1.4em">hobby for</tspan><tspan x="2173.5" dy="1.4em">friends</tspan></text></g>
<g id="n0514"><rect class="y" x="2287" y="371" width="76" height="75"/><text class="t85" x="2325" y="408.5"><tspan x="2325" dy="-2.45em">05.14:</tspan><tspan x="2325" dy="1.4em">Merchant</tspan><tspan x="2325" dy="1.4em">doesn't want</tspan><tspan x="2325" dy="1.4em">to pay for paid</tspan><tspan x="2325" dy="1.4em">features</tspan></text></g>
<g id="n0515"><rect class="y" x="2368" y="371" width="75" height="76"/><text class="t7" x="2405.5" y="409"><tspan x="2405.5" dy="-3.15em">05.15:</tspan><tspan x="2405.5" dy="1.4em">Merchant is not</tspan><tspan x="2405.5" dy="1.4em">fully aware of all</tspan><tspan x="2405.5" dy="1.4em">the tips and tricks</tspan><tspan x="2405.5" dy="1.4em">when using online</tspan><tspan x="2405.5" dy="1.4em">features</tspan></text></g>
<g id="n0605"><rect class="y" x="2287" y="456" width="76" height="75"/><text class="t6" x="2325" y="493.5"><tspan x="2325" dy="-2.45em">06.05:</tspan><tspan x="2325" dy="1.4em">In Facebook groups,</tspan><tspan x="2325" dy="1.4em">merchant's post gets</tspan><tspan x="2325" dy="1.4em">buried under other</tspan><tspan x="2325" dy="1.4em">merchant's post</tspan></text></g>
<g id="n0303"><rect class="y" x="2368" y="456" width="75" height="75"/><text class="t85" x="2405.5" y="493.5"><tspan x="2405.5" dy="-2.45em">03.03 Has</tspan><tspan x="2405.5" dy="1.4em">a full time job,</tspan><tspan x="2405.5" dy="1.4em">cannot give</tspan><tspan x="2405.5" dy="1.4em">much time to</tspan><tspan x="2405.5" dy="1.4em">art</tspan></text></g>
<g id="n0410"><rect class="y" x="2287" y="548" width="76" height="76"/><text class="t7" x="2325" y="586"><tspan x="2325" dy="-3.15em">04.10 Considers</tspan><tspan x="2325" dy="1.4em">Etsy more focused</tspan><tspan x="2325" dy="1.4em">on making</tspan><tspan x="2325" dy="1.4em">website sales than</tspan><tspan x="2325" dy="1.4em">on individual</tspan><tspan x="2325" dy="1.4em">vendors sale</tspan></text></g>
<g id="n0407"><rect class="y" x="2368" y="548" width="75" height="76"/><text class="t7" x="2405.5" y="586"><tspan x="2405.5" dy="-3.15em">04.07 User was</tspan><tspan x="2405.5" dy="1.4em">not aware users</tspan><tspan x="2405.5" dy="1.4em">received message</tspan><tspan x="2405.5" dy="1.4em">immediately after</tspan><tspan x="2405.5" dy="1.4em">accessing her FB</tspan><tspan x="2405.5" dy="1.4em">page</tspan></text></g>
<g id="n0409"><rect class="y" x="2287" y="640" width="76" height="76"/><text class="t85" x="2325" y="678"><tspan x="2325" dy="-2.45em">04.09 Used</tspan><tspan x="2325" dy="1.4em">Etsy briefly but</tspan><tspan x="2325" dy="1.4em">does not</tspan><tspan x="2325" dy="1.4em">consider it</tspan><tspan x="2325" dy="1.4em">"artist friendly"</tspan></text></g>
<g id="n0426"><rect class="y" x="2368" y="640" width="75" height="76"/><text class="t7" x="2405.5" y="678"><tspan x="2405.5" dy="-3.15em">04.26 Square</tspan><tspan x="2405.5" dy="1.4em">sends user a daily</tspan><tspan x="2405.5" dy="1.4em">report detailing</tspan><tspan x="2405.5" dy="1.4em">the amount sold</tspan><tspan x="2405.5" dy="1.4em">(but not the</tspan><tspan x="2405.5" dy="1.4em">items)</tspan></text></g>
<g id="n0411"><rect class="y" x="2287" y="725" width="76" height="76"/><text class="t7" x="2325" y="763"><tspan x="2325" dy="-1.75em">04.11 Dislikes Etsy</tspan><tspan x="2325" dy="1.4em">offering cheaper</tspan><tspan x="2325" dy="1.4em">alternatives, hurts</tspan><tspan x="2325" dy="1.4em">her business</tspan></text></g>
<g id="n0406"><rect class="y" x="2368" y="725" width="75" height="76"/><text class="t7" x="2405.5" y="763"><tspan x="2405.5" dy="-2.45em">04.06 Has a</tspan><tspan x="2405.5" dy="1.4em">facebook page</tspan><tspan x="2405.5" dy="1.4em">but is confusing to</tspan><tspan x="2405.5" dy="1.4em">her. "Don't know</tspan><tspan x="2405.5" dy="1.4em">what's going on"</tspan></text></g>
<g id="n0408"><rect class="y" x="2287" y="808" width="76" height="76"/><text class="t7" x="2325" y="846"><tspan x="2325" dy="-2.45em">04.08 Has an insta</tspan><tspan x="2325" dy="1.4em">and FB page but</tspan><tspan x="2325" dy="1.4em">prefers Insta bc</tspan><tspan x="2325" dy="1.4em">FB has too much</tspan><tspan x="2325" dy="1.4em">going on</tspan></text></g>
<g id="n0405"><rect class="y" x="2467" y="367" width="76" height="76"/><text class="t7" x="2505" y="405"><tspan x="2505" dy="-3.15em">04.05 She's</tspan><tspan x="2505" dy="1.4em">getting older and</tspan><tspan x="2505" dy="1.4em">wants own</tspan><tspan x="2505" dy="1.4em">website but</tspan><tspan x="2505" dy="1.4em">doesn't know how</tspan><tspan x="2505" dy="1.4em">to set it up</tspan></text></g>
<g id="n0504"><rect class="y" x="2467" y="459" width="76" height="77"/><text class="t7" x="2505" y="497.5"><tspan x="2505" dy="-3.15em">05.04:</tspan><tspan x="2505" dy="1.4em">There is less</tspan><tspan x="2505" dy="1.4em">fatigue to manage</tspan><tspan x="2505" dy="1.4em">online business</tspan><tspan x="2505" dy="1.4em">compared to</tspan><tspan x="2505" dy="1.4em">stores</tspan></text></g>
<g id="n0507"><rect class="y" x="2467" y="549" width="76" height="76"/><text class="t7" x="2505" y="587"><tspan x="2505" dy="-2.45em">05.07:</tspan><tspan x="2505" dy="1.4em">Websites are</tspan><tspan x="2505" dy="1.4em">more streamlined</tspan><tspan x="2505" dy="1.4em">than Facebook</tspan><tspan x="2505" dy="1.4em">Business</tspan></text></g>
<g id="n0106"><rect class="y" x="2467" y="642" width="76" height="75"/><text class="t5" x="2505" y="679.5"><tspan x="2505" dy="-3.85em">01.06 Building website</tspan><tspan x="2505" dy="1.4em">because they want to</tspan><tspan x="2505" dy="1.4em">have more structure</tspan><tspan x="2505" dy="1.4em">(than on Etsy) and the</tspan><tspan x="2505" dy="1.4em">ability to add more</tspan><tspan x="2505" dy="1.4em">stuff (like about page,</tspan><tspan x="2505" dy="1.4em">etc)</tspan></text></g>
<g id="n0104"><rect class="y" x="2547" y="364" width="76" height="76"/><text class="t7" x="2585" y="402"><tspan x="2585" dy="-2.45em">01.04 They are</tspan><tspan x="2585" dy="1.4em">building website</tspan><tspan x="2585" dy="1.4em">because they</tspan><tspan x="2585" dy="1.4em">want to have their</tspan><tspan x="2585" dy="1.4em">branding on it</tspan></text></g>
<g id="n0114b"><rect class="y" x="2547" y="457" width="76" height="75"/><text class="t7" x="2585" y="494.5"><tspan x="2585" dy="-3.15em">01.14 Sales are</tspan><tspan x="2585" dy="1.4em">currently higher</tspan><tspan x="2585" dy="1.4em">at FM but they</tspan><tspan x="2585" dy="1.4em">think that will shift</tspan><tspan x="2585" dy="1.4em">with creation of</tspan><tspan x="2585" dy="1.4em">website</tspan></text></g>
<g id="n0108"><rect class="y" x="2547" y="549" width="76" height="75"/><text class="t85" x="2585" y="586.5"><tspan x="2585" dy="-2.45em">01.08 Etsy is</tspan><tspan x="2585" dy="1.4em">fine for now,</tspan><tspan x="2585" dy="1.4em">but doesn't</tspan><tspan x="2585" dy="1.4em">allow for much</tspan><tspan x="2585" dy="1.4em">expansion</tspan></text></g>
<g id="n0510"><rect class="y" x="2651" y="365" width="75" height="76"/><text class="t11" x="2688.5" y="403"><tspan x="2688.5" dy="-1.75em">05.10:</tspan><tspan x="2688.5" dy="1.4em">Website</tspan><tspan x="2688.5" dy="1.4em">takes time</tspan><tspan x="2688.5" dy="1.4em">to set up</tspan></text></g>
<g id="n0301"><rect class="y" x="2651" y="457" width="76" height="76"/><text class="t85" x="2689" y="495"><tspan x="2689" dy="-2.45em">03.01 User has</tspan><tspan x="2689" dy="1.4em">a website but</tspan><tspan x="2689" dy="1.4em">does not make</tspan><tspan x="2689" dy="1.4em">many sales</tspan><tspan x="2689" dy="1.4em">there</tspan></text></g>
<g id="n0508"><rect class="y" x="2651" y="547" width="75" height="76"/><text class="t11" x="2688.5" y="585"><tspan x="2688.5" dy="-1.75em">05.08:</tspan><tspan x="2688.5" dy="1.4em">Websites</tspan><tspan x="2688.5" dy="1.4em">are not up</tspan><tspan x="2688.5" dy="1.4em">to date</tspan></text></g>
<g id="n0502"><rect class="y" x="2651" y="630" width="76" height="76"/><text class="t85" x="2689" y="668"><tspan x="2689" dy="-2.45em">05.02:</tspan><tspan x="2689" dy="1.4em">Merchants use</tspan><tspan x="2689" dy="1.4em">platform</tspan><tspan x="2689" dy="1.4em">where they</tspan><tspan x="2689" dy="1.4em">have followers</tspan></text></g>
<g id="n0113"><rect class="y" x="2651" y="715" width="76" height="76"/><text class="t9" x="2689" y="753"><tspan x="2689" dy="-1.75em">01.13 Sales</tspan><tspan x="2689" dy="1.4em">are much</tspan><tspan x="2689" dy="1.4em">greater at FM</tspan><tspan x="2689" dy="1.4em">than online</tspan></text></g>
<g id="n0204"><rect class="y" x="2763" y="367" width="76" height="76"/><text class="t8" x="2801" y="405"><tspan x="2801" dy="-2.45em">02.04 User</tspan><tspan x="2801" dy="1.4em">wants</tspan><tspan x="2801" dy="1.4em">customers to</tspan><tspan x="2801" dy="1.4em">view the</tspan><tspan x="2801" dy="1.4em">business as legit</tspan></text></g>
<g id="n0421"><rect class="y" x="2843" y="367" width="76" height="76"/><text class="t6" x="2881" y="405"><tspan x="2881" dy="-2.45em">04.21 Having a</tspan><tspan x="2881" dy="1.4em">website would make</tspan><tspan x="2881" dy="1.4em">it more official,</tspan><tspan x="2881" dy="1.4em">more accountable,</tspan><tspan x="2881" dy="1.4em">higher level of trust</tspan></text></g>
<g id="n0420"><rect class="y" x="2763" y="453" width="76" height="75"/><text class="t6" x="2801" y="490.5"><tspan x="2801" dy="-3.85em">04.20 Believes that</tspan><tspan x="2801" dy="1.4em">people are not</tspan><tspan x="2801" dy="1.4em">comfortable just</tspan><tspan x="2801" dy="1.4em">ordering jewelry</tspan><tspan x="2801" dy="1.4em">from someone they</tspan><tspan x="2801" dy="1.4em">don't know w/o</tspan><tspan x="2801" dy="1.4em">website</tspan></text></g>
<g id="n0402"><rect class="y" x="2843" y="453" width="77" height="75"/><text class="t7" x="2881.5" y="490.5"><tspan x="2881.5" dy="-2.45em">04.02 Social</tspan><tspan x="2881.5" dy="1.4em">media customers</tspan><tspan x="2881.5" dy="1.4em">are previous</tspan><tspan x="2881.5" dy="1.4em">customers who</tspan><tspan x="2881.5" dy="1.4em">trust her</tspan></text></g>
</g>

<g id="design-ideas">
<g id="di01"><rect class="o" x="74" y="419" width="75" height="76"/><text class="t7" x="111.5" y="457"><tspan x="111.5" dy="-3.15em">DI: Design a</tspan><tspan x="111.5" dy="1.4em">platform to allow</tspan><tspan x="111.5" dy="1.4em">social</tspan><tspan x="111.5" dy="1.4em">communication</tspan><tspan x="111.5" dy="1.4em">between sellers</tspan><tspan x="111.5" dy="1.4em">and buyers</tspan></text></g>
<g id="di02"><rect class="o" x="408" y="429" width="76" height="75"/><text class="t8" x="446" y="466.5"><tspan x="446" dy="-1.75em">DI: Enable</tspan><tspan x="446" dy="1.4em">personalization</tspan><tspan x="446" dy="1.4em">of customer</tspan><tspan x="446" dy="1.4em">facing pages</tspan></text></g>
<g id="di03"><rect class="o" x="69" y="572" width="78" height="75"/><text class="t7" x="108" y="609.5"><tspan x="108" dy="-3.15em">DI: Integration of</tspan><tspan x="108" dy="1.4em">design solution</tspan><tspan x="108" dy="1.4em">with social media</tspan><tspan x="108" dy="1.4em">platforms like</tspan><tspan x="108" dy="1.4em">Facebook/</tspan><tspan x="108" dy="1.4em">Instagram</tspan></text></g>
<g id="di04"><rect class="o" x="276" y="656" width="77" height="76"/><text class="t85" x="314.5" y="694"><tspan x="314.5" dy="-2.45em">DI: Ability to</tspan><tspan x="314.5" dy="1.4em">add</tspan><tspan x="314.5" dy="1.4em">descriptive</tspan><tspan x="314.5" dy="1.4em">blurb to each</tspan><tspan x="314.5" dy="1.4em">product</tspan></text></g>
<g id="di05"><rect class="o" x="408" y="688" width="76" height="77"/><text class="t8" x="446" y="726.5"><tspan x="446" dy="-2.45em">DI: FAQ feature</tspan><tspan x="446" dy="1.4em">for sellers to</tspan><tspan x="446" dy="1.4em">share info they</tspan><tspan x="446" dy="1.4em">normally do at</tspan><tspan x="446" dy="1.4em">FM</tspan></text></g>
<g id="di06"><rect class="o" x="917" y="224" width="75" height="75"/><text style="font-size:9.2px" x="954.5" y="261.5"><tspan x="954.5" dy="-1.75em">DI:</tspan><tspan x="954.5" dy="1.4em">customizable</tspan><tspan x="954.5" dy="1.4em">payment</tspan><tspan x="954.5" dy="1.4em">options</tspan></text></g>
<g id="di08"><rect class="o" x="597" y="464" width="77" height="77"/><text class="t8" x="635.5" y="502.5"><tspan x="635.5" dy="-1.75em">DI: Integrate</tspan><tspan x="635.5" dy="1.4em">payments with</tspan><tspan x="635.5" dy="1.4em">platform used</tspan><tspan x="635.5" dy="1.4em">for marketing</tspan></text></g>
<g id="di07"><rect class="o" x="612" y="392" width="76" height="76"/><text style="font-size:10.6px" x="650" y="430"><tspan x="650" dy="-1.75em">DI: Create a</tspan><tspan x="650" dy="1.4em">new way to</tspan><tspan x="650" dy="1.4em">collect</tspan><tspan x="650" dy="1.4em">payment</tspan></text></g>
<g id="di09"><rect class="o" x="955" y="580" width="76" height="77"/><text class="t85" x="993" y="618.5"><tspan x="993" dy="-1.75em">DI: Create a</tspan><tspan x="993" dy="1.4em">more robust</tspan><tspan x="993" dy="1.4em">payment</tspan><tspan x="993" dy="1.4em">logging system</tspan></text></g>
<g id="di10"><rect class="o" x="1070" y="419" width="76" height="75"/><text class="t8" x="1108" y="456.5"><tspan x="1108" dy="-2.45em">DI: payment</tspan><tspan x="1108" dy="1.4em">must go</tspan><tspan x="1108" dy="1.4em">through before</tspan><tspan x="1108" dy="1.4em">order shows up</tspan><tspan x="1108" dy="1.4em">for seller</tspan></text></g>
<g id="di11"><rect class="o" x="1304" y="493" width="75" height="75"/><text class="t7" x="1341.5" y="530.5"><tspan x="1341.5" dy="-2.45em">DI: design needs</tspan><tspan x="1341.5" dy="1.4em">to be easily</tspan><tspan x="1341.5" dy="1.4em">implementable</tspan><tspan x="1341.5" dy="1.4em">with current</tspan><tspan x="1341.5" dy="1.4em">selling platforms</tspan></text></g>
<g id="di12"><rect class="o" x="1553" y="513" width="75" height="76"/><text class="t7" x="1590.5" y="551"><tspan x="1590.5" dy="-3.15em">DI: fulfillment</tspan><tspan x="1590.5" dy="1.4em">through ONE</tspan><tspan x="1590.5" dy="1.4em">channel but no</tspan><tspan x="1590.5" dy="1.4em">extra steps</tspan><tspan x="1590.5" dy="1.4em">needed to input</tspan><tspan x="1590.5" dy="1.4em">order</tspan></text></g>
<g id="di13"><rect class="o" x="1633" y="513" width="77" height="76"/><text class="t7" x="1671.5" y="551"><tspan x="1671.5" dy="-3.15em">DI: feature</tspan><tspan x="1671.5" dy="1.4em">allowing for sales</tspan><tspan x="1671.5" dy="1.4em">to be placed</tspan><tspan x="1671.5" dy="1.4em">through</tspan><tspan x="1671.5" dy="1.4em">comments or</tspan><tspan x="1671.5" dy="1.4em">direct messages</tspan></text></g>
<g id="di14"><rect class="o" x="1677" y="317" width="75" height="76"/><text class="t7" x="1714.5" y="355"><tspan x="1714.5" dy="-3.15em">DI: feature</tspan><tspan x="1714.5" dy="1.4em">allowing order</tspan><tspan x="1714.5" dy="1.4em">placement and</tspan><tspan x="1714.5" dy="1.4em">payment directly</tspan><tspan x="1714.5" dy="1.4em">through social</tspan><tspan x="1714.5" dy="1.4em">media</tspan></text></g>
<g id="di15"><rect class="o" x="1854" y="237" width="77" height="76"/><text class="t6" x="1892.5" y="275"><tspan x="1892.5" dy="-3.15em">DI: design needs to</tspan><tspan x="1892.5" dy="1.4em">implement quick</tspan><tspan x="1892.5" dy="1.4em">and simple</tspan><tspan x="1892.5" dy="1.4em">inventory</tspan><tspan x="1892.5" dy="1.4em">management across</tspan><tspan x="1892.5" dy="1.4em">all channels</tspan></text></g>
<g id="di16"><rect class="o" x="1876" y="312" width="76" height="75"/><text class="t6" x="1914" y="349.5"><tspan x="1914" dy="-3.15em">DI: feature allowing</tspan><tspan x="1914" dy="1.4em">for limited external</tspan><tspan x="1914" dy="1.4em">input (with</tspan><tspan x="1914" dy="1.4em">permission) - esp.</tspan><tspan x="1914" dy="1.4em">for those who sell at</tspan><tspan x="1914" dy="1.4em">third party stores</tspan></text></g>
<g id="di17"><rect class="o" x="1994" y="795" width="76" height="75"/><text class="t7" x="2032" y="832.5"><tspan x="2032" dy="-3.15em">DI: one unified</tspan><tspan x="2032" dy="1.4em">inventory</tspan><tspan x="2032" dy="1.4em">management</tspan><tspan x="2032" dy="1.4em">page with details</tspan><tspan x="2032" dy="1.4em">available at</tspan><tspan x="2032" dy="1.4em">prompting of user</tspan></text></g>
<g id="di18"><rect class="o" x="2206" y="344" width="76" height="75"/><text class="t8" x="2244" y="381.5"><tspan x="2244" dy="-2.45em">DI: design has to</tspan><tspan x="2244" dy="1.4em">be easily</tspan><tspan x="2244" dy="1.4em">implementable</tspan><tspan x="2244" dy="1.4em">with existing</tspan><tspan x="2244" dy="1.4em">customer base</tspan></text></g>
<g id="di19"><rect class="o" x="2202" y="437" width="76" height="75"/><text class="t8" x="2240" y="474.5"><tspan x="2240" dy="-2.45em">DI: design can't</tspan><tspan x="2240" dy="1.4em">require intense</tspan><tspan x="2240" dy="1.4em">adaptation for</tspan><tspan x="2240" dy="1.4em">existing</tspan><tspan x="2240" dy="1.4em">customers</tspan></text></g>
<g id="di20"><rect class="o" x="2192" y="620" width="75" height="75"/><text class="t85" x="2229.5" y="657.5"><tspan x="2229.5" dy="-2.45em">DI: design</tspan><tspan x="2229.5" dy="1.4em">needs to be</tspan><tspan x="2229.5" dy="1.4em">scalable as</tspan><tspan x="2229.5" dy="1.4em">customer base</tspan><tspan x="2229.5" dy="1.4em">expands</tspan></text></g>
<g id="di22"><rect class="o" x="2777" y="523" width="76" height="75"/><text class="t8" x="2815" y="560.5"><tspan x="2815" dy="-2.45em">DI: Empower</tspan><tspan x="2815" dy="1.4em">buyers by</tspan><tspan x="2815" dy="1.4em">providing sellers</tspan><tspan x="2815" dy="1.4em">with a better</tspan><tspan x="2815" dy="1.4em">online platform</tspan></text></g>
<g id="di21"><rect class="o" x="2723" y="596" width="76" height="75"/><text class="t7" x="2761" y="633.5"><tspan x="2761" dy="-2.45em">DI: How could we</tspan><tspan x="2761" dy="1.4em">integrate</tspan><tspan x="2761" dy="1.4em">inventory</tspan><tspan x="2761" dy="1.4em">management into</tspan><tspan x="2761" dy="1.4em">online presence?</tspan></text></g>
</g>

<g id="connectors"/>
</svg>
